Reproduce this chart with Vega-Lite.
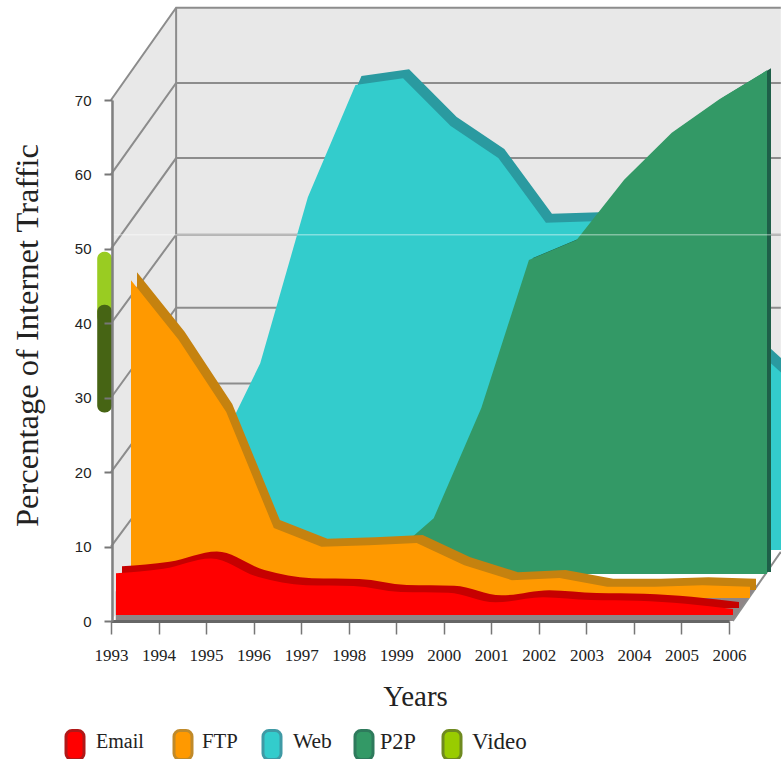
{
  "$schema": "https://vega.github.io/schema/vega-lite/v6.json",
  "width": 781,
  "height": 759,
  "autosize": "none",
  "padding": 0,
  "background": "white",
  "config": {"view": {"stroke": null}, "axis": {"grid": false}},
  "datasets": {
    "walls": [
      {"x": 1993, "top": 70, "bottom": 0},
      {"x": 1994.37, "top": 82.4, "bottom": 11.7},
      {"x": 2007.09, "top": 82.4, "bottom": 11.7}
    ],
    "floor": [
      {"x": 1993.1, "y": 0, "y2": 4},
      {"x": 2006.08, "y": 0, "y2": 4},
      {"x": 2006.6, "y": 4.8, "y2": 4.8}
    ],
    "grid": [
      {"level": 70, "x": 1993, "y": 70}, {"level": 70, "x": 1994.37, "y": 82.4}, {"level": 70, "x": 2007.09, "y": 82.4},
      {"level": 60, "x": 1993, "y": 60}, {"level": 60, "x": 1994.37, "y": 72.3}, {"level": 60, "x": 2007.09, "y": 72.3},
      {"level": 50, "x": 1993, "y": 50}, {"level": 50, "x": 1994.37, "y": 62.2}, {"level": 50, "x": 2007.09, "y": 62.2},
      {"level": 40, "x": 1993, "y": 40}, {"level": 40, "x": 1994.37, "y": 51.9}, {"level": 40, "x": 2007.09, "y": 51.9},
      {"level": 30, "x": 1993, "y": 30}, {"level": 30, "x": 1994.37, "y": 42.1}, {"level": 30, "x": 2007.09, "y": 42.1},
      {"level": 20, "x": 1993, "y": 20}, {"level": 20, "x": 1994.37, "y": 31.9}, {"level": 20, "x": 2007.09, "y": 31.9},
      {"level": 10, "x": 1993, "y": 10}, {"level": 10, "x": 1994.37, "y": 21.8}, {"level": 10, "x": 2007.09, "y": 21.8},
      {"level": 0, "x": 2006.08, "y": 0}, {"level": 0, "x": 2007.09, "y": 9.3},
      {"level": 80, "x": 1994.37, "y": 82.4}, {"level": 80, "x": 1994.37, "y": 11.7}
    ],
    "video": [
      {"part": "top", "x": 1992.71, "x2": 1993.02, "y": 49.6, "y2": 40},
      {"part": "bottom", "x": 1992.71, "x2": 1993.02, "y": 42.5, "y2": 28}
    ],
    "legend": [
      {"series": "Email", "slot": 0},
      {"series": "FTP", "slot": 1},
      {"series": "Web", "slot": 2},
      {"series": "P2P", "slot": 3},
      {"series": "Video", "slot": 4}
    ],
    "email": [
      {"year": 1993, "percent": 5.6}, {"year": 1994, "percent": 6.2}, {"year": 1995, "percent": 7.6},
      {"year": 1996, "percent": 5.1}, {"year": 1997, "percent": 4.0}, {"year": 1998, "percent": 3.9},
      {"year": 1999, "percent": 3.1}, {"year": 2000, "percent": 3.0}, {"year": 2001, "percent": 1.7},
      {"year": 2002, "percent": 2.4}, {"year": 2003, "percent": 2.0}, {"year": 2004, "percent": 1.9},
      {"year": 2005, "percent": 1.5}, {"year": 2006, "percent": 0.8}
    ],
    "ftp": [
      {"year": 1993, "percent": 42.7}, {"year": 1994, "percent": 34.7}, {"year": 1995, "percent": 25.0},
      {"year": 1996, "percent": 9.4}, {"year": 1997, "percent": 6.9}, {"year": 1998, "percent": 7.1},
      {"year": 1999, "percent": 7.4}, {"year": 2000, "percent": 4.4}, {"year": 2001, "percent": 2.4},
      {"year": 2002, "percent": 2.7}, {"year": 2003, "percent": 1.5}, {"year": 2004, "percent": 1.5},
      {"year": 2005, "percent": 1.7}, {"year": 2006, "percent": 1.5}
    ],
    "p2p": [
      {"year": 1993, "percent": 0.5}, {"year": 1994, "percent": 0.5}, {"year": 1995, "percent": 0.8},
      {"year": 1996, "percent": 1.0}, {"year": 1997, "percent": 1.2}, {"year": 1998, "percent": 1.9},
      {"year": 1999, "percent": 7.5}, {"year": 2000, "percent": 22.3}, {"year": 2001, "percent": 42.2},
      {"year": 2002, "percent": 44.9}, {"year": 2003, "percent": 53.0}, {"year": 2004, "percent": 59.3},
      {"year": 2005, "percent": 63.8}, {"year": 2006, "percent": 67.7}
    ],
    "web": [
      {"year": 1993, "percent": 5.0}, {"year": 1994, "percent": 12.0}, {"year": 1995, "percent": 25.1},
      {"year": 1996, "percent": 47.4}, {"year": 1997, "percent": 62.5}, {"year": 1998, "percent": 63.4},
      {"year": 1999, "percent": 57.0}, {"year": 2000, "percent": 52.7}, {"year": 2001, "percent": 44.0},
      {"year": 2002, "percent": 44.2}, {"year": 2003, "percent": 42.0}, {"year": 2004, "percent": 38.0},
      {"year": 2005, "percent": 29.3}, {"year": 2006, "percent": 23.5}
    ]
  },
  "layer": [
    {
      "description": "Back and side walls, carrying the two axes",
      "data": {"name": "walls"},
      "mark": {"type": "area", "color": "#e8e8e8"},
      "encoding": {
        "x": {
          "field": "x", "type": "quantitative",
          "scale": {"domain": [1993, 2006], "range": [111, 729], "nice": false, "zero": false},
          "axis": {
            "orient": "bottom", "offset": -138, "values": [1993,1994,1995,1996,1997,1998,1999,2000,2001,2002,2003,2004,2005,2006],
            "format": "d", "title": "Years", "titleFont": "Liberation Serif", "titleFontSize": 29, "titleFontWeight": "normal",
            "titleColor": "#222", "titleX": 415, "titleY": 84, "titleBaseline": "alphabetic", "titleAnchor": "middle",
            "labelFont": "Liberation Serif", "labelFontSize": 17, "labelColor": "#222", "labelPadding": 13, "labelOverlap": false, "labelFlush": false,
            "tickSize": 13, "tickColor": "#777", "tickWidth": 1.5, "domainColor": "#666", "domainWidth": 3, "zindex": 1
          }
        },
        "y": {
          "field": "top", "type": "quantitative",
          "scale": {"domain": [0, 70], "range": [621, 100], "nice": false, "zero": false},
          "axis": {
            "orient": "left", "offset": -112, "values": [0,10,20,30,40,50,60,70],
            "title": "Percentage of Internet Traffic", "titleFont": "Liberation Serif", "titleFontSize": 32.5, "titleFontWeight": "normal",
            "titleColor": "#222", "titleX": -75, "titleY": 335, "titleBaseline": "alphabetic", "titleAnchor": "middle", "titleAngle": -90,
            "labelFont": "Liberation Sans", "labelFontSize": 15, "labelColor": "#222", "labelPadding": 13, "labelFlush": false,
            "tickSize": 8, "tickColor": "#777", "tickWidth": 2, "domainColor": "#808080", "domainWidth": 2.5, "zindex": 1
          }
        },
        "y2": {"field": "bottom"}
      }
    },
    {
      "description": "Floor strip seen under the series",
      "data": {"name": "floor"},
      "mark": {"type": "area", "color": "#8f8586"},
      "encoding": {
        "x": {"field": "x", "type": "quantitative", "axis": null, "scale": {"domain": [1993, 2006], "range": [111, 729], "nice": false, "zero": false}},
        "y": {"field": "y", "type": "quantitative", "axis": null, "scale": {"domain": [0, 70], "range": [621, 100], "nice": false, "zero": false}},
        "y2": {"field": "y2"}
      }
    },
    {
      "description": "Gridlines running along the side wall and across the back wall",
      "data": {"name": "grid"},
      "mark": {"type": "line", "color": "#8c8c8c", "strokeWidth": 2},
      "encoding": {
        "x": {"field": "x", "type": "quantitative", "axis": null, "scale": {"domain": [1993, 2006], "range": [111, 729], "nice": false, "zero": false}},
        "y": {"field": "y", "type": "quantitative", "axis": null, "scale": {"domain": [0, 70], "range": [621, 100], "nice": false, "zero": false}},
        "detail": {"field": "level"},
        "order": {"field": "x"}
      }
    },
    {
      "description": "Video series edge left of the value axis",
      "data": {"name": "video"},
      "mark": {"type": "rect", "cornerRadius": 7},
      "encoding": {
        "x": {"field": "x", "type": "quantitative", "axis": null, "scale": {"domain": [1993, 2006], "range": [111, 729], "nice": false, "zero": false}},
        "x2": {"field": "x2"},
        "y": {"field": "y", "type": "quantitative", "axis": null, "scale": {"domain": [0, 70], "range": [621, 100], "nice": false, "zero": false}},
        "y2": {"field": "y2"},
        "color": {"field": "part", "type": "nominal", "legend": null, "scale": {"domain": ["top", "bottom"], "range": ["#99cc22", "#466414"]}}
      }
    },
    {
      "description": "Web top face",
      "data": {"name": "web"},
      "mark": {"type": "area", "color": "#2a9aa0", "clip": true},
      "encoding": {
        "x": {"field": "year", "type": "quantitative", "axis": null, "scale": {"domain": [1993, 2006], "range": [171, 790], "nice": false, "zero": false}},
        "y": {"field": "percent", "type": "quantitative", "axis": null, "stack": null, "scale": {"domain": [0, 70], "range": [541, 20.2], "nice": false, "zero": false}}
      }
    },
    {
      "description": "Web front face",
      "data": {"name": "web"},
      "mark": {"type": "area", "color": "#33cccc", "clip": true},
      "encoding": {
        "x": {"field": "year", "type": "quantitative", "axis": null, "scale": {"domain": [1993, 2006], "range": [165, 784], "nice": false, "zero": false}},
        "y": {"field": "percent", "type": "quantitative", "axis": null, "stack": null, "scale": {"domain": [0, 70], "range": [550, 29.2], "nice": false, "zero": false}}
      }
    },
    {
      "description": "P2P top face",
      "data": {"name": "p2p"},
      "mark": {"type": "area", "color": "#1e5f48"},
      "encoding": {
        "x": {"field": "year", "type": "quantitative", "axis": null, "scale": {"domain": [1993, 2006], "range": [152, 771], "nice": false, "zero": false}},
        "y": {"field": "percent", "type": "quantitative", "axis": null, "stack": null, "scale": {"domain": [0, 70], "range": [572, 51.2], "nice": false, "zero": false}}
      }
    },
    {
      "description": "P2P front face",
      "data": {"name": "p2p"},
      "mark": {"type": "area", "color": "#339966"},
      "encoding": {
        "x": {"field": "year", "type": "quantitative", "axis": null, "scale": {"domain": [1993, 2006], "range": [148, 767], "nice": false, "zero": false}},
        "y": {"field": "percent", "type": "quantitative", "axis": null, "stack": null, "scale": {"domain": [0, 70], "range": [574, 53.2], "nice": false, "zero": false}}
      }
    },
    {
      "description": "FTP top face",
      "data": {"name": "ftp"},
      "mark": {"type": "area", "color": "#c5820f"},
      "encoding": {
        "x": {"field": "year", "type": "quantitative", "axis": null, "scale": {"domain": [1993, 2006], "range": [137, 756], "nice": false, "zero": false}},
        "y": {"field": "percent", "type": "quantitative", "axis": null, "stack": null, "scale": {"domain": [0, 70], "range": [590, 69.2], "nice": false, "zero": false}}
      }
    },
    {
      "description": "FTP front face",
      "data": {"name": "ftp"},
      "mark": {"type": "area", "color": "#ff9900"},
      "encoding": {
        "x": {"field": "year", "type": "quantitative", "axis": null, "scale": {"domain": [1993, 2006], "range": [131, 750], "nice": false, "zero": false}},
        "y": {"field": "percent", "type": "quantitative", "axis": null, "stack": null, "scale": {"domain": [0, 70], "range": [598, 77.2], "nice": false, "zero": false}}
      }
    },
    {
      "description": "Email top face",
      "data": {"name": "email"},
      "mark": {"type": "area", "color": "#c60000", "interpolate": "monotone"},
      "encoding": {
        "x": {"field": "year", "type": "quantitative", "axis": null, "scale": {"domain": [1993, 2006], "range": [122, 739], "nice": false, "zero": false}},
        "y": {"field": "percent", "type": "quantitative", "axis": null, "stack": null, "scale": {"domain": [0, 70], "range": [608, 87.2], "nice": false, "zero": false}}
      }
    },
    {
      "description": "Email front face",
      "data": {"name": "email"},
      "mark": {"type": "area", "color": "#ff0000", "interpolate": "monotone"},
      "encoding": {
        "x": {"field": "year", "type": "quantitative", "axis": null, "scale": {"domain": [1993, 2006], "range": [116, 733], "nice": false, "zero": false}},
        "y": {"field": "percent", "type": "quantitative", "axis": null, "stack": null, "scale": {"domain": [0, 70], "range": [615, 94.2], "nice": false, "zero": false}}
      }
    },
    {
      "description": "Light streak across the back wall at the 40 line",
      "data": {"values": [{"level": 51.9}]},
      "mark": {"type": "rule", "color": "white", "opacity": 0.4, "strokeWidth": 1.5},
      "encoding": {
        "y": {"field": "level", "type": "quantitative", "axis": null, "scale": {"domain": [0, 70], "range": [621, 100], "nice": false, "zero": false}}
      }
    },
    {
      "description": "Key swatches",
      "data": {"name": "legend"},
      "mark": {"type": "rect", "width": 18, "height": 29, "cornerRadius": 6, "strokeWidth": 3},
      "encoding": {
        "x": {"field": "slot", "type": "quantitative", "axis": null, "scale": {"domain": [0, 1, 2, 3, 4], "range": [75, 183, 272, 364, 452]}},
        "y": {"datum": 0, "type": "quantitative", "axis": null, "scale": {"domain": [0, 1], "range": [745, 745]}},
        "fill": {"field": "series", "type": "nominal", "legend": null, "scale": {"domain": ["Email", "FTP", "Web", "P2P", "Video"], "range": ["#ff0000", "#ff9900", "#33cccc", "#339966", "#99cc00"]}},
        "stroke": {"field": "series", "type": "nominal", "legend": null, "scale": {"domain": ["Email", "FTP", "Web", "P2P", "Video"], "range": ["#b01818", "#c08a2a", "#3f9aa5", "#2e7a5c", "#6f8a20"]}}
      }
    },
    {
      "description": "Key labels",
      "data": {"name": "legend"},
      "mark": {"type": "text", "font": "Liberation Serif", "align": "left", "baseline": "middle", "color": "#222"},
      "encoding": {
        "x": {"field": "slot", "type": "quantitative", "axis": null, "scale": {"domain": [0, 1, 2, 3, 4], "range": [96, 202, 293, 380, 472]}},
        "y": {"datum": 0, "type": "quantitative", "axis": null, "scale": {"domain": [0, 1], "range": [742, 742]}},
        "text": {"field": "series"},
        "size": {"field": "series", "type": "nominal", "legend": null, "scale": {"domain": ["Email", "FTP", "Web", "P2P", "Video"], "range": [20, 23, 23, 23, 23]}}
      }
    }
  ],
  "resolve": {
    "scale": {"x": "independent", "y": "independent", "fill": "independent", "stroke": "independent", "color": "independent", "size": "independent"},
    "axis": {"x": "independent", "y": "independent"}
  }
}
